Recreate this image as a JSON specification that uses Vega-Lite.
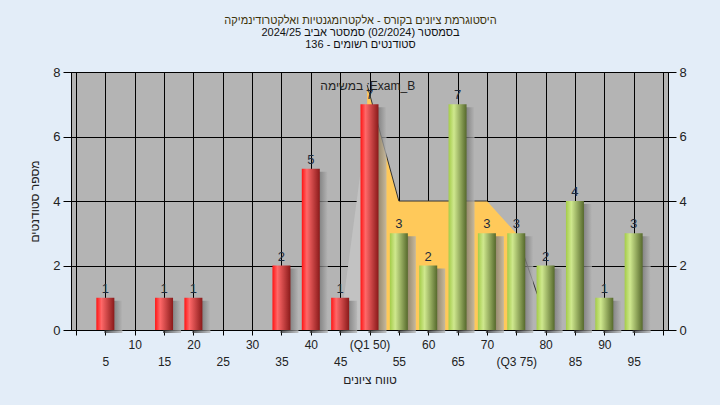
{
  "$schema": "https://vega.github.io/schema/vega-lite/v6.json",
  "width": 597,
  "height": 258,
  "autosize": "none",
  "padding": {"left": 71, "top": 72, "right": 52, "bottom": 75},
  "background": "#e3edf8",
  "config": {
    "font": "Liberation Sans",
    "view": {"fill": "#b4b4b4", "stroke": "#000000", "strokeWidth": 1}
  },
  "title": {
    "text": "היסטוגרמת ציונים בקורס - אלקטרומגנטיות ואלקטרודינמיקה",
    "subtitle": ["בסמסטר  (02/2024)  סמסטר אביב 2024/25", "סטודנטים רשומים - 136"],
    "anchor": "middle",
    "frame": "group",
    "dx": -9,
    "fontSize": 11,
    "fontWeight": "normal",
    "color": "#3d3208",
    "subtitleFontSize": 11,
    "subtitleColor": "#111111",
    "subtitlePadding": 1,
    "subtitleLineHeight": 12.5,
    "offset": 16
  },
  "datasets": {
    "bars": [
      {"grade": 5, "count": 1}, {"grade": 15, "count": 1}, {"grade": 20, "count": 1},
      {"grade": 35, "count": 2}, {"grade": 40, "count": 5}, {"grade": 45, "count": 1},
      {"grade": 50, "count": 7}, {"grade": 55, "count": 3}, {"grade": 60, "count": 2},
      {"grade": 65, "count": 7}, {"grade": 70, "count": 3}, {"grade": 75, "count": 3},
      {"grade": 80, "count": 2}, {"grade": 85, "count": 4}, {"grade": 90, "count": 1},
      {"grade": 95, "count": 3}
    ],
    "area1": [{"grade": 44.9, "count": 0}, {"grade": 50.3, "count": 7.4}],
    "area2": [
      {"grade": 49.6, "count": 7.6}, {"grade": 55, "count": 4},
      {"grade": 70, "count": 4}, {"grade": 75, "count": 3}
    ],
    "lines": [
      {"seg": "a", "grade": 49.6, "count": 7.6}, {"seg": "a", "grade": 55, "count": 4},
      {"seg": "a", "grade": 70, "count": 4},
      {"seg": "b", "grade": 75, "count": 3}, {"seg": "b", "grade": 78.6, "count": 1.1}
    ],
    "note": [{"grade": 49.7, "count": 7.58, "text": "במשימה ;Exam_B"}]
  },
  "layer": [
    {
      "data": {"name": "area1"},
      "mark": {"type": "area", "color": "#c2c2c2"},
      "encoding": {
        "x": {
          "field": "grade", "type": "quantitative",
          "scale": {"domain": [0, 100], "nice": false, "zero": false},
          "axis": {
            "orient": "bottom",
            "values": [0, 5, 10, 15, 20, 25, 30, 35, 40, 45, 50, 55, 60, 65, 70, 75, 80, 85, 90, 95, 100],
            "grid": true, "gridColor": "#000000", "gridOpacity": 1, "gridWidth": 1,
            "domainColor": "#000000", "tickColor": "#000000", "tickSize": 5,
            "labelExpr": "(datum.value % 10 == 0 && datum.value > 0 && datum.value < 100) ? (datum.value == 50 ? '(Q1 50)' : datum.label) : ''",
            "labelPadding": 4, "labelFontSize": 12, "labelColor": "#222222",
            "labelFlush": false, "labelOverlap": false, "labelBound": false,
            "title": null
          }
        },
        "y": {
          "field": "count", "type": "quantitative",
          "scale": {"domain": [0, 8], "nice": false},
          "axis": {
            "orient": "left", "values": [0, 2, 4, 6, 8],
            "grid": true, "gridColor": "#000000", "gridOpacity": 1,
            "domainColor": "#000000", "tickColor": "#000000", "tickSize": 8,
            "labelFontSize": 13, "labelColor": "#222222", "labelPadding": 3,
            "title": "מספר סטודנטים", "titleFontSize": 12, "titleFontWeight": "normal",
            "titleColor": "#222222", "titlePadding": 11
          }
        }
      }
    },
    {
      "data": {"name": "area2"},
      "mark": {"type": "area", "color": "#ffc95a"},
      "encoding": {
        "x": {
          "field": "grade", "type": "quantitative",
          "axis": {
            "orient": "bottom",
            "values": [5, 15, 25, 35, 45, 55, 65, 75, 85, 95],
            "grid": false, "domain": false, "ticks": false,
            "labelExpr": "datum.value == 75 ? '(Q3 75)' : datum.label",
            "labelPadding": 26, "labelFontSize": 12, "labelColor": "#222222",
            "labelFlush": false, "labelOverlap": false, "labelBound": false,
            "title": "טווח ציונים", "titleFontSize": 12, "titleFontWeight": "normal",
            "titleColor": "#222222", "titlePadding": 7
          }
        },
        "y": {"field": "count", "type": "quantitative", "axis": null}
      }
    },
    {
      "data": {"name": "lines"},
      "mark": {"type": "line", "color": "#333333", "strokeWidth": 1},
      "encoding": {
        "x": {"field": "grade", "type": "quantitative", "axis": null},
        "y": {"field": "count", "type": "quantitative", "axis": null},
        "detail": {"field": "seg", "type": "nominal"}
      }
    },
    {
      "data": {"name": "bars"},
      "mark": {
        "type": "bar", "width": 18, "xOffset": 8, "yOffset": 3, "opacity": 0.75,
        "color": {"gradient": "linear", "x1": 0, "x2": 1, "y1": 0, "y2": 0,
          "stops": [{"offset": 0, "color": "#2a2a2a"}, {"offset": 1, "color": "#b4b4b4"}]}
      },
      "encoding": {
        "x": {"field": "grade", "type": "quantitative", "axis": null},
        "y": {"field": "count", "type": "quantitative", "axis": null}
      }
    },
    {
      "data": {"name": "bars"},
      "transform": [{"filter": "datum.grade <= 50"}],
      "mark": {
        "type": "bar", "width": 18,
        "color": {"gradient": "linear", "x1": 0, "x2": 1, "y1": 0, "y2": 0,
          "stops": [{"offset": 0, "color": "#ff1414"}, {"offset": 0.28, "color": "#ff6868"}, {"offset": 1, "color": "#8a1a1a"}]}
      },
      "encoding": {
        "x": {"field": "grade", "type": "quantitative", "axis": null},
        "y": {"field": "count", "type": "quantitative", "axis": null}
      }
    },
    {
      "data": {"name": "bars"},
      "transform": [{"filter": "datum.grade > 50"}],
      "mark": {
        "type": "bar", "width": 18,
        "color": {"gradient": "linear", "x1": 0, "x2": 1, "y1": 0, "y2": 0,
          "stops": [{"offset": 0, "color": "#a4cc48"}, {"offset": 0.3, "color": "#cfe88e"}, {"offset": 1, "color": "#56692c"}]}
      },
      "encoding": {
        "x": {"field": "grade", "type": "quantitative", "axis": null},
        "y": {"field": "count", "type": "quantitative", "axis": null}
      }
    },
    {
      "data": {"name": "bars"},
      "mark": {"type": "text", "baseline": "bottom", "dy": -2, "fontSize": 13, "color": "#1e2b3c"},
      "encoding": {
        "x": {"field": "grade", "type": "quantitative", "axis": null},
        "y": {
          "field": "count", "type": "quantitative",
          "axis": {
            "orient": "right", "values": [0, 2, 4, 6, 8], "grid": false,
            "domainColor": "#000000", "tickColor": "#000000", "tickSize": 8,
            "labelFontSize": 13, "labelColor": "#222222", "labelPadding": 3, "title": null
          }
        },
        "text": {"field": "count", "type": "quantitative"}
      }
    },
    {
      "data": {"name": "note"},
      "mark": {"type": "text", "fontSize": 12, "color": "#222222", "align": "center", "baseline": "middle"},
      "encoding": {
        "x": {"field": "grade", "type": "quantitative", "axis": null},
        "y": {"field": "count", "type": "quantitative", "axis": null},
        "text": {"field": "text", "type": "nominal"}
      }
    }
  ],
  "resolve": {"axis": {"x": "independent", "y": "independent"}}
}
